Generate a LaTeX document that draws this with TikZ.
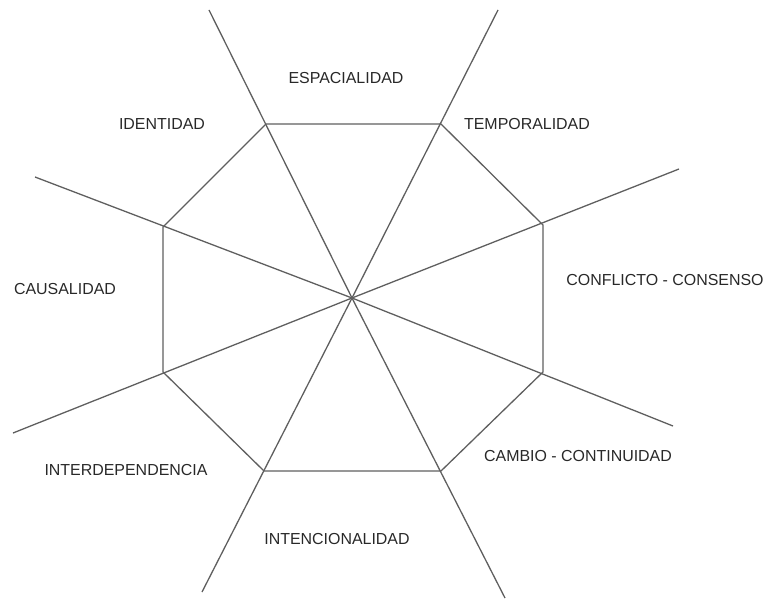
\documentclass[tikz,border=0pt]{standalone}
\usepackage{fontspec}
\setmainfont{Liberation Sans}
\definecolor{ln}{RGB}{95,95,95}
\definecolor{tx}{RGB}{40,40,40}
\begin{document}
\begin{tikzpicture}[x=1bp,y=-1bp,
  spoke/.style={draw=ln,line width=1.3bp},
  edge/.style={draw=ln,line width=1.3bp,line join=miter},
  lbl/.style={text=tx,font=\fontsize{16}{18}\selectfont,inner sep=0pt}]
\useasboundingbox (0,0) rectangle (768,602);
% center and octagon vertices
\coordinate (c) at (352,298);
\coordinate (v1) at (266,124);
\coordinate (v2) at (441,124);
\coordinate (v3) at (543,225);
\coordinate (v4) at (543,372);
\coordinate (v5) at (441,471);
\coordinate (v6) at (264,471);
\coordinate (v7) at (163,372);
\coordinate (v8) at (163,227);
% spoke ends
\coordinate (a1) at (209,10);
\coordinate (b1) at (505,598);
\coordinate (a2) at (498,10);
\coordinate (b2) at (202,592);
\coordinate (a3) at (679,169);
\coordinate (b3) at (13,433);
\coordinate (a4) at (35,177);
\coordinate (b4) at (673,426);
% octagon
\draw[edge] (v1) -- (v2) -- (v3) -- (v4) -- (v5) -- (v6) -- (v7) -- (v8) -- cycle;
% spokes
\draw[spoke] (a1) -- (c) -- (b1);
\draw[spoke] (a2) -- (c) -- (b2);
\draw[spoke] (a3) -- (c) -- (b3);
\draw[spoke] (a4) -- (c) -- (b4);
% labels
\node[lbl] (espacialidad) at (346,78) {ESPACIALIDAD};
\node[lbl] (identidad) at (162,124) {IDENTIDAD};
\node[lbl] (temporalidad) at (527,124) {TEMPORALIDAD};
\node[lbl] (causalidad) at (65,289) {CAUSALIDAD};
\node[lbl] (conflicto) at (665,280) {CONFLICTO - CONSENSO};
\node[lbl] (interdep) at (126,470) {INTERDEPENDENCIA};
\node[lbl] (cambio) at (578,456) {CAMBIO - CONTINUIDAD};
\node[lbl] (intencion) at (337,539) {INTENCIONALIDAD};
\end{tikzpicture}
\end{document}
